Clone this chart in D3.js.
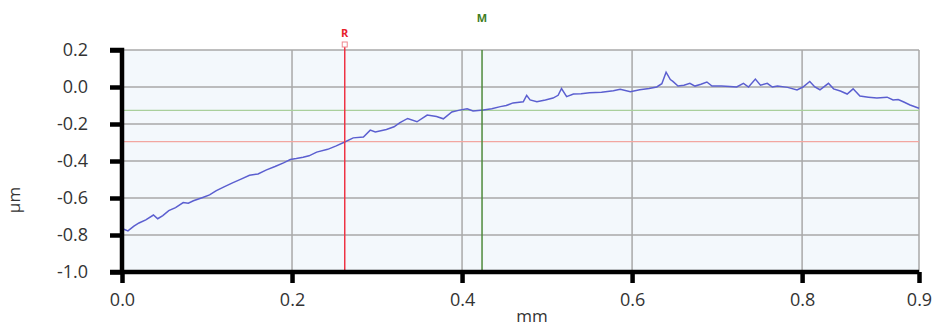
<!DOCTYPE html>
<html lang="en">
<head>
<meta charset="utf-8">
<title>Profile</title>
<style>
  body { margin: 0; background: #fff; }
  text { font-family: "Open Sans", sans-serif; fill: #333; }
</style>
</head>
<body>
<svg width="939" height="328"></svg>
<script src="https://d3js.org/d3.v7.min.js"></script>
<script>
// profile points, mm
var posMm = [0.000, 0.007, 0.014, 0.020, 0.028, 0.037, 0.042, 0.048, 0.055, 0.063, 0.072, 0.078, 0.084, 0.095, 0.103, 0.111,
  0.120, 0.130, 0.140, 0.150, 0.160, 0.170, 0.180, 0.190, 0.198, 0.205, 0.213, 0.220, 0.229,
  0.242, 0.252, 0.262, 0.272, 0.284, 0.292, 0.298, 0.311, 0.320, 0.327, 0.336, 0.347, 0.359, 0.370, 0.378, 0.388, 0.397, 0.406, 0.413,
  0.425, 0.435, 0.445, 0.452, 0.460, 0.472, 0.476, 0.480, 0.488, 0.498, 0.507, 0.513, 0.517, 0.523, 0.531, 0.540, 0.550, 0.564, 0.578, 0.586, 0.598,
  0.609, 0.620, 0.629, 0.635, 0.640, 0.645, 0.648, 0.654, 0.661, 0.668, 0.674, 0.681, 0.688, 0.694, 0.705, 0.715, 0.723, 0.731, 0.737, 0.745, 0.751,
  0.759, 0.765, 0.771, 0.783, 0.794, 0.801, 0.809, 0.815, 0.821, 0.831, 0.837, 0.845, 0.853, 0.860, 0.868, 0.878, 0.888, 0.900, 0.907,
  0.913, 0.919, 0.927, 0.9375];
// height, µm
var heightUm = [-0.765, -0.778, -0.752, -0.735, -0.718, -0.692, -0.712, -0.695, -0.668, -0.652, -0.625, -0.628, -0.615, -0.597, -0.583, -0.560,
  -0.540, -0.518, -0.498, -0.477, -0.470, -0.448, -0.430, -0.410, -0.392, -0.387, -0.380, -0.372, -0.352,
  -0.337, -0.318, -0.297, -0.275, -0.270, -0.233, -0.243, -0.230, -0.215, -0.193, -0.170, -0.188, -0.152, -0.160, -0.172, -0.135, -0.125, -0.118, -0.130,
  -0.124, -0.118, -0.106, -0.100, -0.086, -0.080, -0.045, -0.070, -0.080, -0.070, -0.060, -0.045, -0.008, -0.052, -0.038, -0.036, -0.031, -0.028, -0.020, -0.012, -0.025,
  -0.015, -0.008, 0.000, 0.018, 0.080, 0.040, 0.030, 0.005, 0.010, 0.020, 0.005, 0.015, 0.027, 0.005, 0.005, 0.003, 0.000, 0.020, 0.000, 0.043, 0.010,
  0.020, 0.000, 0.005, -0.002, -0.016, 0.000, 0.030, 0.000, -0.015, 0.020, -0.010, -0.022, -0.038, -0.010, -0.049, -0.055, -0.060, -0.055, -0.070,
  -0.068, -0.080, -0.097, -0.115];

var xTicks = [0, 0.2, 0.4, 0.6, 0.8, 0.9375];
var xTickLabels = ["0.0", "0.2", "0.4", "0.6", "0.8", "0.9"];
var yTicks = [0.2, 0.0, -0.2, -0.4, -0.6, -0.8, -1.0];

// cursor lines
var cursorNames = ["R", "M"];
var cursorX = [0.262, 0.4235];
var cursorY = [-0.295, -0.126];

var svg = d3.select("svg");
var margin = {left: 122, right: 20, top: 50, bottom: 56};
var w = 939 - margin.left - margin.right,
    h = 328 - margin.top - margin.bottom;

var x = d3.scaleLinear().domain([0, 0.9375]).range([0, w]);
var y = d3.scaleLinear().domain([-1.0, 0.2]).range([h, 0]);

var g = svg.append("g").attr("transform", "translate(" + margin.left + "," + margin.top + ")");

g.append("rect").attr("width", w).attr("height", h).attr("fill", "#f3f8fc");

// grid
g.selectAll(".hg").data(yTicks).enter().append("line")
  .attr("x1", 0).attr("x2", w)
  .attr("y1", function(d) { return y(d); }).attr("y2", function(d) { return y(d); })
  .attr("stroke", "#a9a9a9").attr("stroke-width", 1.5);
g.selectAll(".vg").data(xTicks.slice(1)).enter().append("line")
  .attr("x1", function(d) { return x(d); }).attr("x2", function(d) { return x(d); })
  .attr("y1", 0).attr("y2", h)
  .attr("stroke", "#a9a9a9").attr("stroke-width", 1.5);

// horizontal cursor levels
var hColors = ["#f2a6a0", "#a9cf9c"];
cursorY.forEach(function(v, i) {
  g.append("line").attr("x1", 0).attr("x2", w).attr("y1", y(v)).attr("y2", y(v))
    .attr("stroke", hColors[i]).attr("stroke-width", 1.3);
});

// profile
var line = d3.line().x(function(d) { return x(d[0]); }).y(function(d) { return y(d[1]); });
g.append("path").datum(d3.zip(posMm, heightUm))
  .attr("d", line).attr("fill", "none")
  .attr("stroke", "#5b5fd0").attr("stroke-width", 1.5);

// vertical cursors
var vColors = ["#ee3344", "#4e8a3c"];
var labelColors = ["#e8202c", "#3f7d1e"];
var labelY = [-13, -28];
cursorX.forEach(function(v, i) {
  g.append("line").attr("x1", x(v)).attr("x2", x(v)).attr("y1", i === 0 ? -5 : 0).attr("y2", h)
    .attr("stroke", vColors[i]).attr("stroke-width", 1.5);
  g.append("text").attr("x", x(v)).attr("y", labelY[i])
    .attr("text-anchor", "middle").style("font-size", "11px").style("font-weight", "bold")
    .style("fill", labelColors[i]).text(cursorNames[i]);
});
g.append("rect").attr("x", x(cursorX[0]) - 2.5).attr("y", -8).attr("width", 5).attr("height", 5)
  .attr("fill", "#fff").attr("stroke", "#ee8890").attr("stroke-width", 1);

// axes
var xAxis = d3.axisBottom(x).tickValues(xTicks)
  .tickFormat(function(d, i) { return xTickLabels[i]; })
  .tickSize(11).tickPadding(10);
var yAxis = d3.axisLeft(y).tickValues(yTicks)
  .tickFormat(d3.format(".1f")).tickSize(12).tickPadding(22);

var xa = g.append("g").attr("transform", "translate(0," + h + ")").call(xAxis);
var ya = g.append("g").call(yAxis);
[xa, ya].forEach(function(a) {
  a.select(".domain").attr("stroke", "#000").attr("stroke-width", 4.5);
  a.selectAll(".tick line").attr("stroke", "#000").attr("stroke-width", 4.5);
  a.selectAll("text").style("font-size", "18px").style("fill", "#333").style("font-family", "'Open Sans', sans-serif");
});
xa.select(".domain").attr("d", "M-12,0H" + w);
xa.selectAll(".tick line").attr("y1", 0);
ya.select(".domain").attr("d", "M-12,0H0V" + h);
ya.selectAll(".tick text").text(function(d) { return d3.format(".1f")(d).replace("\u2212", "-"); });

svg.append("text").attr("x", 532).attr("y", 322).attr("text-anchor", "middle")
  .style("font-size", "17px").text("mm");
svg.append("text").attr("transform", "translate(20,200) rotate(-90)").attr("text-anchor", "middle")
  .style("font-size", "17px").text("µm");
</script>
</body>
</html>
